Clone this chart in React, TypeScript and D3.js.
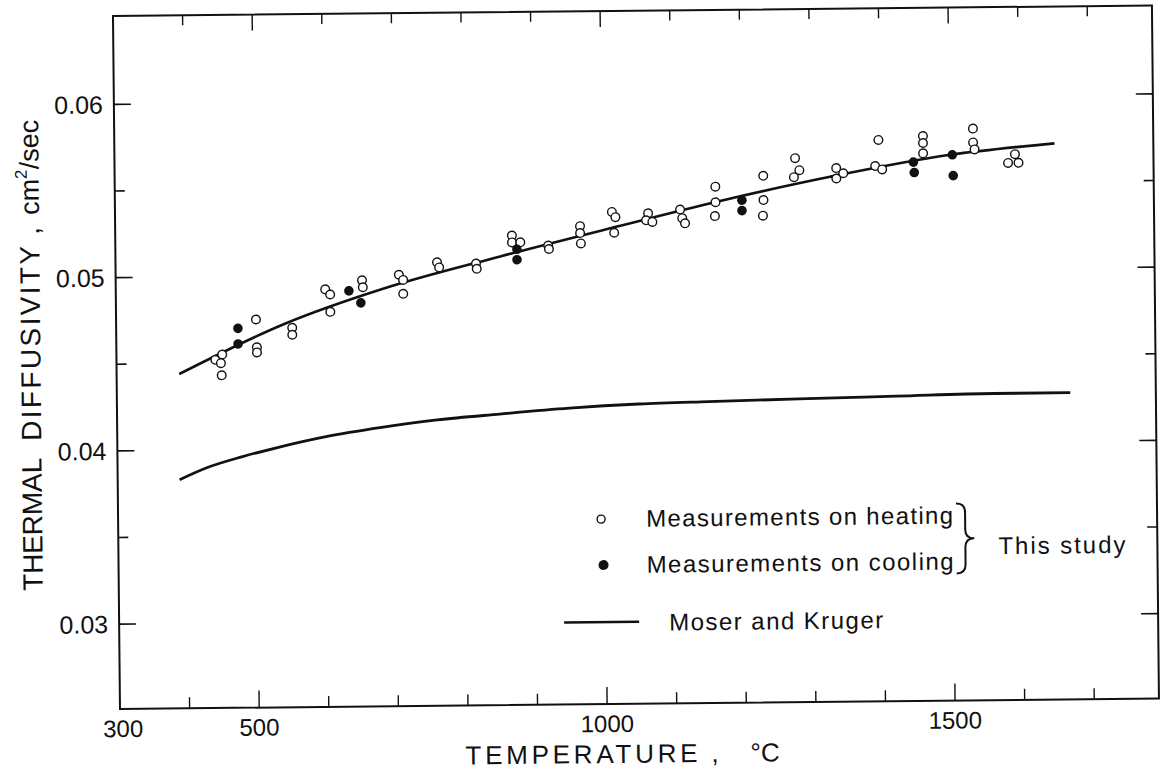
import React from 'react';
import * as d3 from 'd3';

// measurements on heating (open circles): temperature (°C) and diffusivity (cm2/sec)
const heatT = [442, 452, 450, 451, 501, 502, 502, 553, 553, 601, 608, 608, 654, 655, 707, 713, 713,
	762, 765, 818, 819, 870, 870, 882, 922, 923, 968, 968, 969, 1014, 1019, 1017, 1066, 1063, 1072,
	1112, 1115, 1119, 1163, 1163, 1162, 1232, 1232, 1231, 1278, 1284, 1276, 1337, 1347, 1337,
	1398, 1393, 1403, 1462, 1462, 1462, 1534, 1534, 1536, 1594, 1584, 1599];
const heatV = [0.0452, 0.0455, 0.045, 0.0443, 0.0475, 0.0459, 0.0456, 0.047, 0.0466, 0.0492, 0.0489, 0.0479,
	0.0497, 0.0493, 0.05, 0.0497, 0.0489, 0.0507, 0.0504, 0.0506, 0.0503, 0.0522, 0.0518, 0.0518, 0.0516,
	0.0514, 0.0527, 0.0523, 0.0517, 0.0535, 0.0532, 0.0523, 0.0534, 0.053, 0.0529, 0.0536, 0.0531, 0.0528,
	0.0549, 0.054, 0.0532, 0.0555, 0.0541, 0.0532, 0.0565, 0.0558, 0.0554, 0.0559, 0.0556, 0.0553,
	0.0575, 0.056, 0.0558, 0.0577, 0.0573, 0.0567, 0.0581, 0.0573, 0.0569, 0.0566, 0.0561, 0.0561];

// measurements on cooling (filled circles)
const coolT = [475, 475, 635, 652, 877, 877, 1201, 1201, 1448, 1449, 1504, 1505];
const coolV = [0.047, 0.0461, 0.0491, 0.0484, 0.0514, 0.0508, 0.0541, 0.0535, 0.0562, 0.0556, 0.0566, 0.0554];

// curve through this study's points
const fitT = [390, 540, 684, 853, 1026, 1162, 1328, 1501, 1651];
const fitV = [0.0444, 0.0472, 0.0492, 0.051, 0.0527, 0.054, 0.0554, 0.0566, 0.0572];

// Moser and Kruger
const moserT = [389, 430, 480, 530, 600, 680, 760, 850, 950, 1050, 1150, 1280, 1420, 1560, 1670];
const moserV = [0.0383, 0.039, 0.0396, 0.0401, 0.0407, 0.0412, 0.0416, 0.0419, 0.0422, 0.0424, 0.0425,
	0.0426, 0.0427, 0.0428, 0.0428];

const xTicks = [400, 500, 600, 700, 800, 900, 1000, 1100, 1200, 1300, 1400, 1500, 1600, 1700];
const xMajor = [500, 1000, 1500];
const xLabels = [300, 500, 1000, 1500];
const yTicks = [0.03, 0.035, 0.04, 0.045, 0.05, 0.055, 0.06];
const yLabels = ['0.03', '0.04', '0.05', '0.06'];

const W = 1161;
const H = 776;
const left = 120;
const right = 1159;
const top = 16;
const bottom = 709;

const font = '"Liberation Sans", Arial, sans-serif';
const ink = '#111';

const App = () => {
	const x = d3.scaleLinear().domain([300, 1793]).range([left, right]);
	const y = d3.scaleLinear().domain([0.0251, 0.0651]).range([bottom, top]);

	const fitPath = d3
		.line<number>()
		.x((d) => x(d))
		.y((d, i) => y(fitV[i]))
		.curve(d3.curveMonotoneX)(fitT);
	const moserPath = d3
		.line<number>()
		.x((d) => x(d))
		.y((d, i) => y(moserV[i]))
		.curve(d3.curveMonotoneX)(moserT);

	// labelled values get the long ticks
	const isMajorY = (v: number) => yLabels.includes(v.toFixed(3).replace(/0$/, ''));

	return (
		<svg
			width={W}
			height={H}
			style={{ position: 'absolute', left: 0, top: 0, background: '#fff' }}
			fontFamily={font}
		>
			<rect width={W} height={H} fill="#fff" />
			{/* the scanned page is turned a little, so the whole figure is too */}
			<g transform={`rotate(-0.58 ${left} ${bottom})`}>
				<rect x={left} y={top} width={right - left} height={bottom - top} fill="none" stroke={ink} strokeWidth={2} />

				{xTicks.map((t) => {
					const len = xMajor.includes(t) ? 17 : 11;
					return (
						<g key={'xt' + t}>
							<line x1={x(t)} x2={x(t)} y1={bottom} y2={bottom - len} stroke={ink} strokeWidth={1.4} />
							<line x1={x(t)} x2={x(t)} y1={top} y2={top + len - 1} stroke={ink} strokeWidth={1.4} />
						</g>
					);
				})}
				{yTicks.map((v) => {
					const len = isMajorY(v) ? 17 : 10;
					return (
						<g key={'yt' + v}>
							<line x1={left} x2={left + len} y1={y(v)} y2={y(v)} stroke={ink} strokeWidth={1.6} />
							<line x1={right} x2={right - len} y1={y(v)} y2={y(v)} stroke={ink} strokeWidth={1.6} />
						</g>
					);
				})}

				{xLabels.map((t) => (
					<text key={'xl' + t} x={x(t) + (t === 300 ? 3 : 0)} y={737} fontSize={24} textAnchor="middle" fill={ink}>
						{t}
					</text>
				))}
				{yLabels.map((s) => (
					<text key={'yl' + s} x={109} y={y(+s) + 9} fontSize={25} textAnchor="end" fill={ink}>
						{s}
					</text>
				))}

				<text x={465} y={768} fontSize={26} textLength={232} lengthAdjust="spacing" fill={ink}>
					TEMPERATURE
				</text>
				<text x={711} y={768} fontSize={26} fill={ink}>
					,
				</text>
				<text x={750} y={768} fontSize={26} fill={ink}>
					°C
				</text>

				<g transform="translate(44,0)">
					<text transform="translate(0,590) rotate(-90)" fontSize={28} textLength={133} lengthAdjust="spacing" fill={ink}>
						THERMAL
					</text>
					<text transform="translate(0,440) rotate(-90)" fontSize={28} textLength={195} lengthAdjust="spacing" fill={ink}>
						DIFFUSIVITY
					</text>
					<text transform="translate(0,234) rotate(-90)" fontSize={28} fill={ink}>
						,
					</text>
					<text transform="translate(0,214) rotate(-90)" fontSize={27} fill={ink}>
						cm
						<tspan fontSize={17} dy={-12}>
							2
						</tspan>
						<tspan dy={12}>/sec</tspan>
					</text>
				</g>

				<path d={moserPath || ''} fill="none" stroke={ink} strokeWidth={2.8} />
				<path d={fitPath || ''} fill="none" stroke={ink} strokeWidth={2.6} />

				{heatT.map((t, i) => (
					<circle key={'h' + i} cx={x(t)} cy={y(heatV[i])} r={4.3} fill="#fff" stroke={ink} strokeWidth={1.4} />
				))}
				{coolT.map((t, i) => (
					<circle key={'c' + i} cx={x(t)} cy={y(coolV[i])} r={4.8} fill={ink} />
				))}

				{/* legend */}
				<circle cx={603} cy={524} r={4} fill="#fff" stroke={ink} strokeWidth={1.4} />
				<text x={648} y={532} fontSize={24} textLength={307} lengthAdjust="spacing" fill={ink}>
					Measurements on heating
				</text>
				<circle cx={605} cy={570} r={5} fill={ink} />
				<text x={648} y={578} fontSize={24} textLength={307} lengthAdjust="spacing" fill={ink}>
					Measurements on cooling
				</text>
				<path
					d="M958,512 Q967,512 967,521 L967,538 Q967,547 976,547 Q967,547 967,556 L967,573 Q967,582 958,582"
					fill="none"
					stroke={ink}
					strokeWidth={2}
				/>
				<text x={1000} y={563} fontSize={24} textLength={127} lengthAdjust="spacing" fill={ink}>
					This study
				</text>
				<line x1={565} x2={640} y1={627} y2={627} stroke={ink} strokeWidth={2.6} />
				<text x={670} y={636} fontSize={24} textLength={214} lengthAdjust="spacing" fill={ink}>
					Moser and Kruger
				</text>
			</g>
		</svg>
	);
};

export default App;
